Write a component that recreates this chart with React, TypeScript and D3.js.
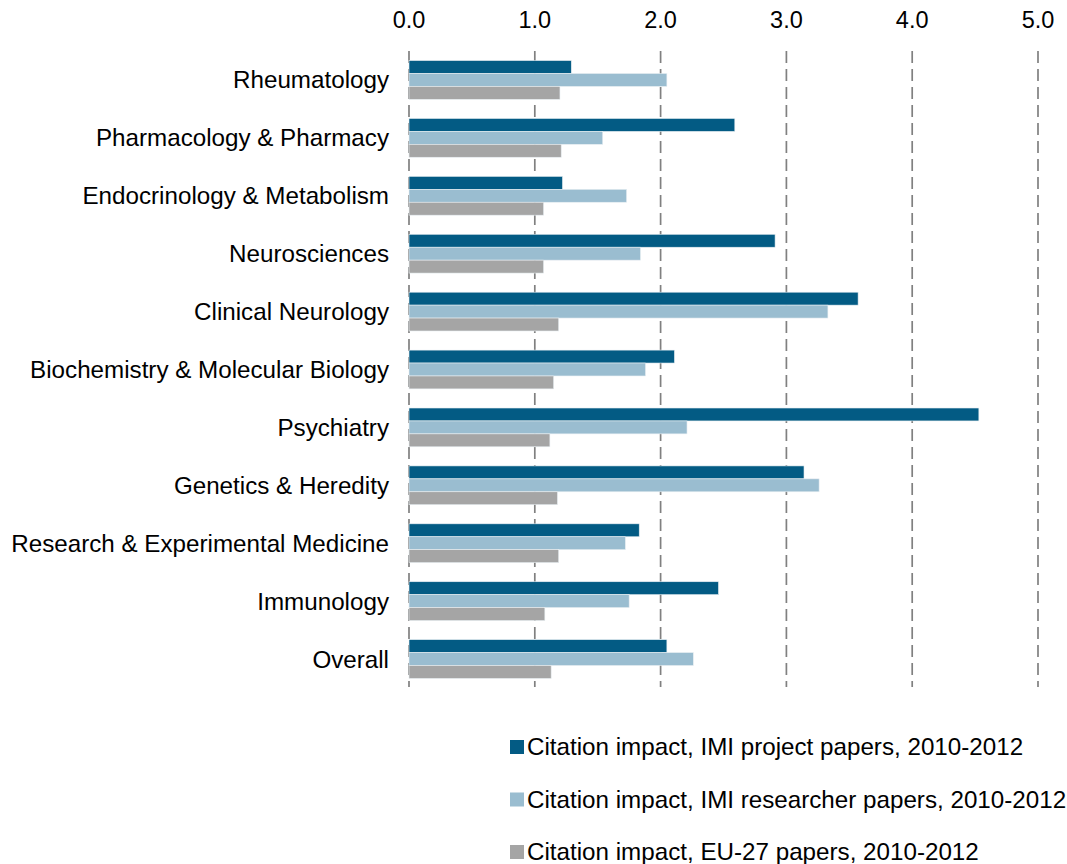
import * as d3 from "d3"
import React, { useEffect, useRef } from "react"

const categories = [
    "Rheumatology",
    "Pharmacology & Pharmacy",
    "Endocrinology & Metabolism",
    "Neurosciences",
    "Clinical Neurology",
    "Biochemistry & Molecular Biology",
    "Psychiatry",
    "Genetics & Heredity",
    "Research & Experimental Medicine",
    "Immunology",
    "Overall",
]

const seriesNames = [
    "Citation impact, IMI project papers, 2010-2012",
    "Citation impact, IMI researcher papers, 2010-2012",
    "Citation impact, EU-27 papers, 2010-2012",
]

const projectValues = [1.29, 2.59, 1.22, 2.91, 3.57, 2.11, 4.53, 3.14, 1.83, 2.46, 2.05]
const researcherValues = [2.05, 1.54, 1.73, 1.84, 3.33, 1.88, 2.21, 3.26, 1.72, 1.75, 2.26]
const euValues = [1.2, 1.21, 1.07, 1.07, 1.19, 1.15, 1.12, 1.18, 1.19, 1.08, 1.13]

const tickValues = [0, 1, 2, 3, 4, 5]

const colors = ["#035b84", "#9abdd0", "#a5a5a5"]

const Chart = () => {
    const svgRef = useRef(null)

    useEffect(() => {
        const width = 1067
        const height = 864
        const font = "'Liberation Sans', Arial, sans-serif"

        const svg = d3.select(svgRef.current)
            .attr("width", width)
            .attr("height", height)
            .style("font-family", font)

        svg.selectAll("*").remove()

        const seriesValues = [projectValues, researcherValues, euValues]

        // x scale: 0 -> 409, 5 -> 1038
        const x = d3.scaleLinear().domain([0, 5]).range([409, 1038])

        const y = d3.scaleBand()
            .domain(categories)
            .range([51, 688])
            .paddingInner(0.33)
            .paddingOuter(0.165)

        const ySub = d3.scaleBand()
            .domain(seriesNames)
            .range([0, y.bandwidth()])

        // dashed gridlines (including the zero line)
        svg.append("g")
            .selectAll("line")
            .data(tickValues)
            .join("line")
            .attr("x1", (d) => x(d))
            .attr("x2", (d) => x(d))
            .attr("y1", 51)
            .attr("y2", 687)
            .attr("stroke", "#808080")
            .attr("stroke-width", 1.7)
            .attr("stroke-dasharray", "12,6")

        // tick labels on top
        svg.append("g")
            .selectAll("text")
            .data(tickValues)
            .join("text")
            .attr("x", (d) => x(d))
            .attr("y", 28)
            .attr("text-anchor", "middle")
            .attr("font-size", 23.5)
            .attr("fill", "#000")
            .text((d) => d3.format(".1f")(d))

        // bars
        const groups = svg.append("g")
            .selectAll("g")
            .data(categories)
            .join("g")
            .attr("transform", (d) => `translate(0, ${y(d)})`)

        groups.selectAll("rect")
            .data((d, i) => seriesNames.map((s, j) => ({ s, v: seriesValues[j][i], j })))
            .join("rect")
            .attr("x", x(0))
            .attr("y", (d) => ySub(d.s))
            .attr("width", (d) => x(d.v) - x(0))
            .attr("height", ySub.bandwidth())
            .attr("fill", (d) => colors[d.j])
            .attr("stroke", "#e8eef2")
            .attr("stroke-width", 0.6)

        // category labels
        svg.append("g")
            .selectAll("text")
            .data(categories)
            .join("text")
            .attr("x", 389)
            .attr("y", (d) => y(d) + y.bandwidth() / 2)
            .attr("dy", "0.35em")
            .attr("text-anchor", "end")
            .attr("font-size", 24.2)
            .attr("fill", "#000")
            .text((d) => d)

        // legend
        const legend = svg.append("g")
            .selectAll("g")
            .data(seriesNames)
            .join("g")
            .attr("transform", (d, i) => `translate(510, ${747 + i * 52.5})`)

        legend.append("rect")
            .attr("x", 0)
            .attr("y", -7)
            .attr("width", 14)
            .attr("height", 14)
            .attr("fill", (d, i) => colors[i])

        legend.append("text")
            .attr("x", 17)
            .attr("y", 0)
            .attr("dy", "0.35em")
            .attr("font-size", 24.2)
            .attr("fill", "#000")
            .text((d) => d)
    }, [])

    return <svg ref={svgRef} style={{ position: "absolute", left: 0, top: 0 }}></svg>
}

export default function App() {
    return <Chart />
}
